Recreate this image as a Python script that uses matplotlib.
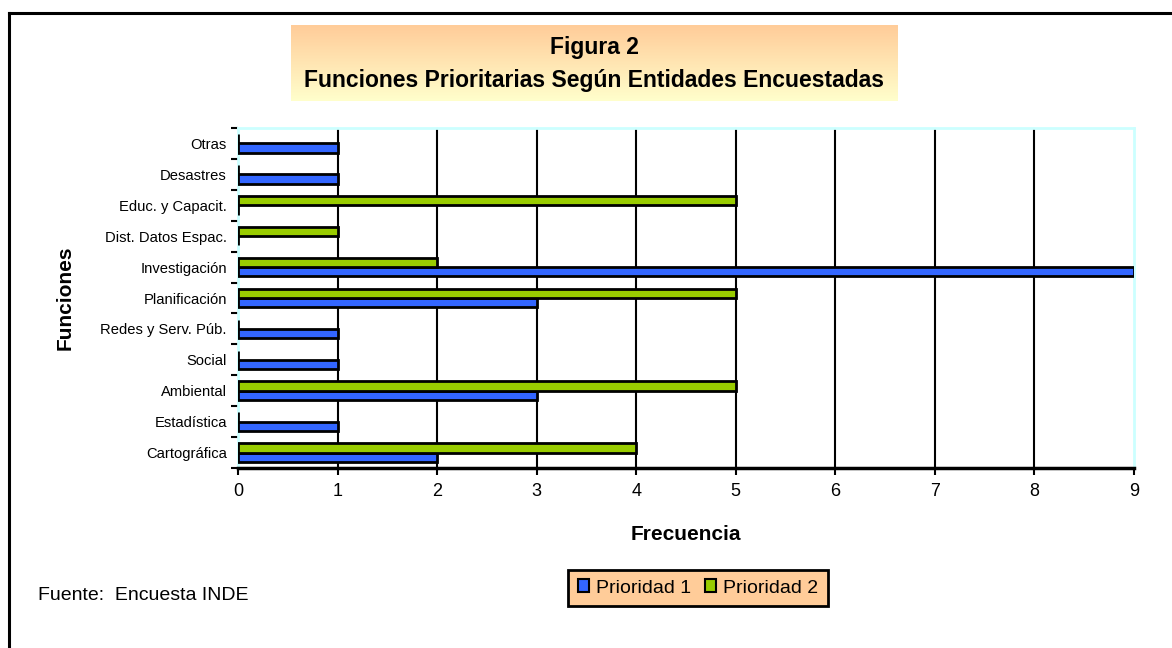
import numpy as np
import matplotlib
matplotlib.use("Agg")
import matplotlib.pyplot as plt
from matplotlib.patches import Patch

plt.rcParams['font.family'] = ['Liberation Sans', 'DejaVu Sans']

# data, bottom to top
categorias = ['Cartográfica', 'Estadística', 'Ambiental', 'Social', 'Redes y Serv. Púb.',
              'Planificación', 'Investigación', 'Dist. Datos Espac.', 'Educ. y Capacit.',
              'Desastres', 'Otras']
prioridad1 = [2, 1, 3, 1, 1, 3, 9, 0, 0, 1, 1]
prioridad2 = [4, 0, 5, 0, 0, 5, 2, 1, 5, 0, 0]
xticks = [0, 1, 2, 3, 4, 5, 6, 7, 8, 9]

azul = '#3366FF'
verde = '#99CC00'

W, H = 1172, 648
fig = plt.figure(figsize=(W / 100, H / 100), dpi=100)

# outer frame (left and top only visible)
fig.add_artist(plt.Line2D([9 / W, 9 / W], [0, 1 - 13 / H], color='black', lw=2.2))
fig.add_artist(plt.Line2D([9 / W, 1], [1 - 13 / H, 1 - 13 / H], color='black', lw=2.2))

# title box with gradient
tax = fig.add_axes([291 / W, 1 - 101 / H, (898 - 291) / W, (101 - 25) / H])
grad = np.linspace(0, 1, 100).reshape(-1, 1)
c1 = np.array([255, 204, 153]) / 255
c2 = np.array([255, 255, 204]) / 255
img = c1[None, None, :] * (1 - grad[:, :, None]) + c2[None, None, :] * grad[:, :, None]
tax.imshow(img, aspect='auto', extent=[0, 1, 0, 1], origin='upper')
tax.set_xlim(0, 1)
tax.set_ylim(0, 1)
tax.axis('off')
tax.text(0.5, 0.71, 'Figura 2', ha='center', va='center', fontsize=16.5, fontweight='bold')
tax.text(0.5, 0.27, 'Funciones Prioritarias Según Entidades Encuestadas', ha='center',
         va='center', fontsize=16.5, fontweight='bold')

# main axes
ax = fig.add_axes([238 / W, 1 - 468 / H, (1134 - 238) / W, (468 - 128) / H])
y = np.arange(len(categorias))
h = 0.3
ax.barh(y - h / 2, prioridad1, height=h, color=azul, edgecolor='black', linewidth=2, zorder=3)
ax.barh(y + h / 2, prioridad2, height=h, color=verde, edgecolor='black', linewidth=2, zorder=3)

ax.set_xlim(0, 9)
ax.set_ylim(-0.5, len(categorias) - 0.5)
for v in xticks[1:-1]:
    ax.axvline(v, color='black', lw=1.5, zorder=1)

ax.set_xticks(xticks)
ax.set_xticklabels([str(v) for v in xticks], fontsize=13)
ax.tick_params(axis='x', direction='out', length=5, width=1.5, pad=6)

ax.set_yticks(np.arange(-0.5, len(categorias), 1))
ax.set_yticklabels([])
ax.set_yticks(y, minor=True)
ax.set_yticklabels(categorias, minor=True, fontsize=10.6)
ax.tick_params(axis='y', which='major', direction='out', length=5, width=1.5)
ax.tick_params(axis='y', which='minor', length=0, pad=8)

for s in ['top', 'right', 'left']:
    ax.spines[s].set_color('#CCFFFF')
    ax.spines[s].set_linewidth(2)
ax.spines['bottom'].set_color('black')
ax.spines['bottom'].set_linewidth(2.5)

ax.set_xlabel('Frecuencia', fontsize=15, fontweight='bold', va='center')
ax.xaxis.set_label_coords(0.5, -(535 - 468) / 340)
ax.set_ylabel('Funciones', fontsize=15, fontweight='bold', va='center')
ax.yaxis.set_label_coords(-(238 - 65) / 896, 0.5)

fig.text(38 / W, 1 - 595 / H, 'Fuente:  Encuesta INDE', fontsize=14, va='center', ha='left')

handles = [Patch(facecolor=azul, edgecolor='black', linewidth=1.5),
           Patch(facecolor=verde, edgecolor='black', linewidth=1.5)]
leg = fig.legend(handles, ['Prioridad 1', 'Prioridad 2'], loc='center',
                 bbox_to_anchor=(698 / W, 1 - 588 / H), ncol=2, fontsize=14,
                 frameon=True, fancybox=False, handlelength=0.6, handleheight=0.6,
                 handletextpad=0.35, columnspacing=0.7, borderpad=0.5)
leg.get_frame().set_facecolor('#FFCC99')
leg.get_frame().set_edgecolor('black')
leg.get_frame().set_linewidth(2)
leg.get_frame().set_alpha(1)

fig.savefig('out.png', dpi=100)
